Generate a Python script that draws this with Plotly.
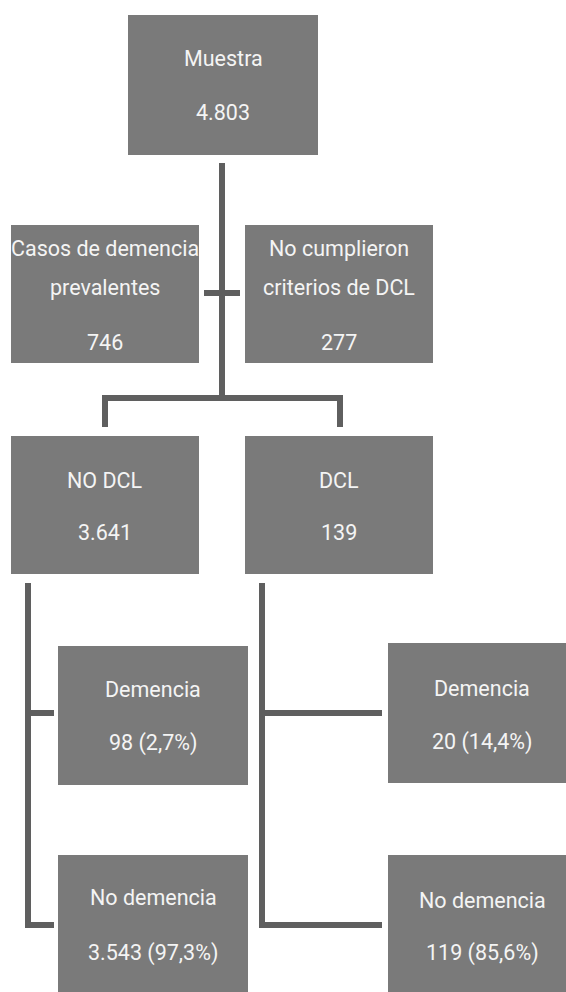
import plotly.graph_objects as go

# ---- data ----
node_titles = [
    ["Muestra"],
    ["Casos de demencia", "prevalentes"],
    ["No cumplieron", "criterios de DCL"],
    ["NO DCL"],
    ["DCL"],
    ["Demencia"],
    ["No demencia"],
    ["Demencia"],
    ["No demencia"],
]
node_values = ["4.803", "746", "277", "3.641", "139",
               "98 (2,7%)", "3.543 (97,3%)", "20 (14,4%)", "119 (85,6%)"]

# ---- layout geometry (pixels, y downward) ----
boxes = [  # x0, x1, y0, y1
    (128, 318, 15, 155),
    (11, 199, 225, 363),
    (245, 433, 225, 363),
    (11, 199, 436, 574),
    (245, 433, 436, 574),
    (58, 248, 646, 785),
    (58, 248, 855, 995),
    (388, 576, 643, 783),
    (388, 576, 855, 995),
]
title_y = [[58], [248, 287], [248, 287], [480], [480], [689], [897], [688], [900]]
value_y = [112, 342, 342, 532, 532, 743, 953, 742, 953]
text_x = [223, 105, 339, 105, 339, 153, 153, 482, 482]

connectors = [
    "M222,163 L222,398",
    "M204,293 L240,293",
    "M105,427 L105,398 L340,398 L340,427",
    "M28,583 L28,925 L54,925",
    "M28,713 L54,713",
    "M262,583 L262,925 L382,925",
    "M262,713 L382,713",
]

BOX = "#7a7a7a"
LINE = "#5f5f5f"
TXT = "#f4f4f4"
FONT = "Roboto, Lato, Liberation Sans, sans-serif"
FS = 21.5

fig = go.Figure()
# invisible trace to establish axes
fig.add_trace(go.Scatter(x=[0, 566], y=[0, 992], mode="markers",
                         marker=dict(opacity=0), hoverinfo="skip", showlegend=False))

shapes = []
for p in connectors:
    shapes.append(dict(type="path", path=p, xref="x", yref="y",
                       line=dict(color=LINE, width=6)))
for (x0, x1, y0, y1) in boxes:
    shapes.append(dict(type="rect", x0=x0, x1=x1, y0=y0, y1=y1, xref="x", yref="y",
                       fillcolor=BOX, line=dict(width=0), layer="above"))

annotations = []
for i, titles in enumerate(node_titles):
    for t, ty in zip(titles, title_y[i]):
        annotations.append(dict(x=text_x[i], y=ty, xref="x", yref="y", text=t,
                                showarrow=False, font=dict(family=FONT, size=FS, color=TXT),
                                xanchor="center", yanchor="middle"))
    annotations.append(dict(x=text_x[i], y=value_y[i], xref="x", yref="y", text=node_values[i],
                            showarrow=False, font=dict(family=FONT, size=FS, color=TXT),
                            xanchor="center", yanchor="middle"))

fig.update_layout(
    width=566, height=992,
    margin=dict(l=0, r=0, t=0, b=0),
    paper_bgcolor="white", plot_bgcolor="white",
    xaxis=dict(range=[0, 566], visible=False, fixedrange=True),
    yaxis=dict(range=[992, 0], visible=False, fixedrange=True),
    shapes=shapes, annotations=annotations,
    showlegend=False,
)

fig.write_html("out.html", config={"displayModeBar": False},
               post_script="document.body.style.margin='0';document.body.style.padding='0';")
